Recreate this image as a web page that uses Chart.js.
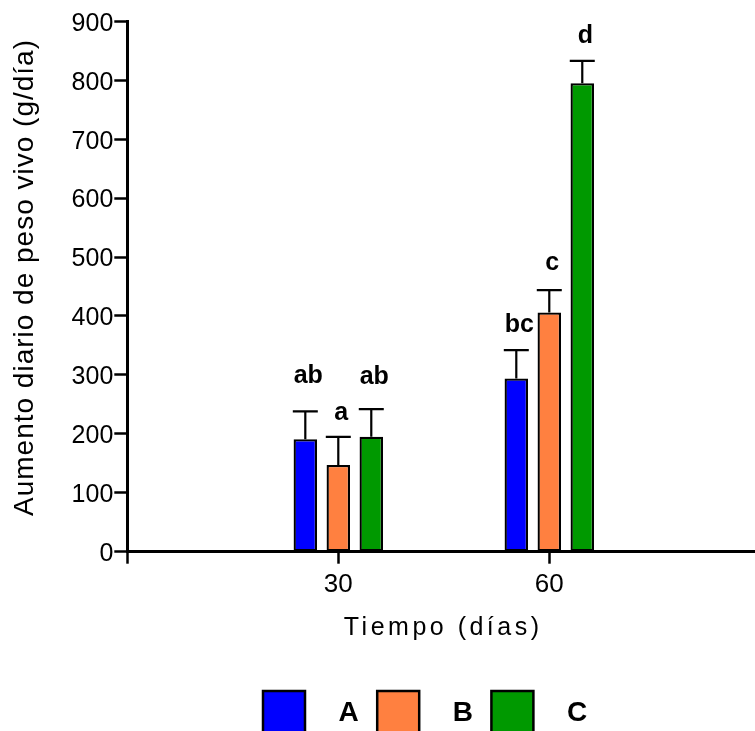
<!DOCTYPE html>
<html>
<head>
<meta charset="utf-8">
<script src="https://cdn.jsdelivr.net/npm/chart.js@4.4.1/dist/chart.umd.min.js"></script>
<style>
  html, body { margin: 0; padding: 0; background: #fff; overflow: hidden; }
  #wrap { width: 755px; height: 731px; }
</style>
</head>
<body>
<div id="wrap"><canvas id="chart"></canvas></div>
<script>
// data
const days = [30, 60];
const groups = ['A', 'B', 'C'];
const meanA = [191, 294];
const meanB = [147, 406];
const meanC = [195, 795];
const errA = [47, 48];
const errB = [48, 38];
const errC = [47, 38];
const lettersA = ['ab', 'bc'];
const lettersB = ['a', 'c'];
const lettersC = ['ab', 'd'];
const xTicks = [0, 30, 60];
const xTitle = 'Tiempo (días)';
const yTitle = 'Aumento diario de peso vivo (g/día)';

const colors = ['#0000FF', '#FF8040', '#009900'];
const FONT = "'Liberation Sans', Arial, Helvetica, sans-serif";

Chart.defaults.font.family = FONT;
Chart.defaults.color = '#000';

function makeSet(i, means, errs, letters) {
    return {
        label: groups[i],
        data: days.map((d, k) => ({ x: d, y: means[k] })),
        errors: errs,
        letters: letters,
        backgroundColor: colors[i],
        borderColor: '#000',
        borderWidth: 2.3,
        borderSkipped: false,
        categoryPercentage: 0.469,
        barPercentage: 0.712
    };
}

// error bars (upper only) + significance letters
const errorBars = {
    id: 'errorBars',
    afterDatasetsDraw(chart, args, opts) {
        const ctx = chart.ctx;
        const y = chart.scales.y;
        ctx.save();
        ctx.strokeStyle = '#000';
        ctx.lineWidth = 2.2;
        ctx.fillStyle = '#000';
        ctx.font = 'bold 25px ' + FONT;
        ctx.textAlign = 'center';
        ctx.textBaseline = 'alphabetic';
        chart.data.datasets.forEach((ds, i) => {
            const meta = chart.getDatasetMeta(i);
            meta.data.forEach((bar, k) => {
                const top = y.getPixelForValue(ds.data[k].y + ds.errors[k]);
                ctx.beginPath();
                ctx.moveTo(bar.x, bar.y);
                ctx.lineTo(bar.x, top);
                ctx.moveTo(bar.x - 12.5, top);
                ctx.lineTo(bar.x + 12.5, top);
                ctx.stroke();
                ctx.fillText(ds.letters[k], bar.x + 3, top - opts.gaps[i][k]);
            });
        });
        ctx.restore();
    }
};

// axis titles, drawn by hand for the wide letter spacing
const axisTitles = {
    id: 'axisTitles',
    afterDraw(chart) {
        const ctx = chart.ctx;
        const area = chart.chartArea;
        ctx.save();
        ctx.fillStyle = '#000';
        ctx.textAlign = 'center';
        ctx.textBaseline = 'middle';

        ctx.font = '25px ' + FONT;
        ctx.letterSpacing = '3.5px';
        ctx.fillText(xTitle, (area.left + area.right) / 2 + 2, 628);

        ctx.font = '28px ' + FONT;
        ctx.letterSpacing = '1px';
        ctx.translate(25.3, (area.top + area.bottom) / 2 - 9);
        ctx.rotate(-Math.PI / 2);
        ctx.fillText(yTitle, 0, 0);
        ctx.restore();
    }
};

// legend at the bottom: box, then bold name
const boxLegend = {
    id: 'boxLegend',
    afterDraw(chart, args, opts) {
        const ctx = chart.ctx;
        ctx.save();
        ctx.font = 'bold 28px ' + FONT;
        ctx.textAlign = 'left';
        ctx.textBaseline = 'middle';
        chart.data.datasets.forEach((ds, i) => {
            const x = opts.x + i * opts.stride;
            ctx.fillStyle = ds.backgroundColor;
            ctx.fillRect(x, opts.y, opts.size, opts.size);
            ctx.strokeStyle = '#000';
            ctx.lineWidth = 2.5;
            ctx.strokeRect(x, opts.y, opts.size, opts.size);
            ctx.fillStyle = '#000';
            ctx.fillText(ds.label, x + opts.size + opts.gap, opts.y + opts.size / 2 + 1);
        });
        ctx.restore();
    }
};

new Chart(document.getElementById('chart'), {
    type: 'bar',
    data: {
        datasets: [
            makeSet(0, meanA, errA, lettersA),
            makeSet(1, meanB, errB, lettersB),
            makeSet(2, meanC, errC, lettersC)
        ]
    },
    options: {
        responsive: true,
        maintainAspectRatio: false,
        animation: false,
        layout: { padding: { top: 21.3, right: 0, bottom: 60, left: 0 } },
        plugins: {
            legend: { display: false },
            tooltip: { enabled: false },
            errorBars: { gaps: [[28, 18], [17, 20], [25, 18]] },
            boxLegend: { x: 263, y: 691, size: 42, gap: 33.5, stride: 114.2 }
        },
        scales: {
            x: {
                type: 'linear',
                min: 0,
                max: 89.25,
                offset: false,
                afterBuildTicks: s => { s.ticks = xTicks.map(v => ({ value: v })); },
                afterFit: s => { s.height = 119.3; },
                grid: { offset: false, drawOnChartArea: false, drawTicks: true, tickLength: 12, tickWidth: 2.5, tickColor: '#000' },
                border: { display: true, color: '#000', width: 3 },
                ticks: {
                    font: { size: 26 },
                    padding: 6,
                    callback: v => (v === 0 ? '' : v)
                }
            },
            y: {
                min: 0,
                max: 900,
                afterFit: s => { s.width = 127.3; },
                grid: { drawOnChartArea: false, drawTicks: true, tickLength: 13, tickWidth: 2.5, tickColor: '#000' },
                border: { display: true, color: '#000', width: 3 },
                ticks: { stepSize: 100, font: { size: 25 }, padding: 1, labelOffset: 2.5 }
            }
        }
    },
    plugins: [errorBars, axisTitles, boxLegend]
});
</script>
</body>
</html>
